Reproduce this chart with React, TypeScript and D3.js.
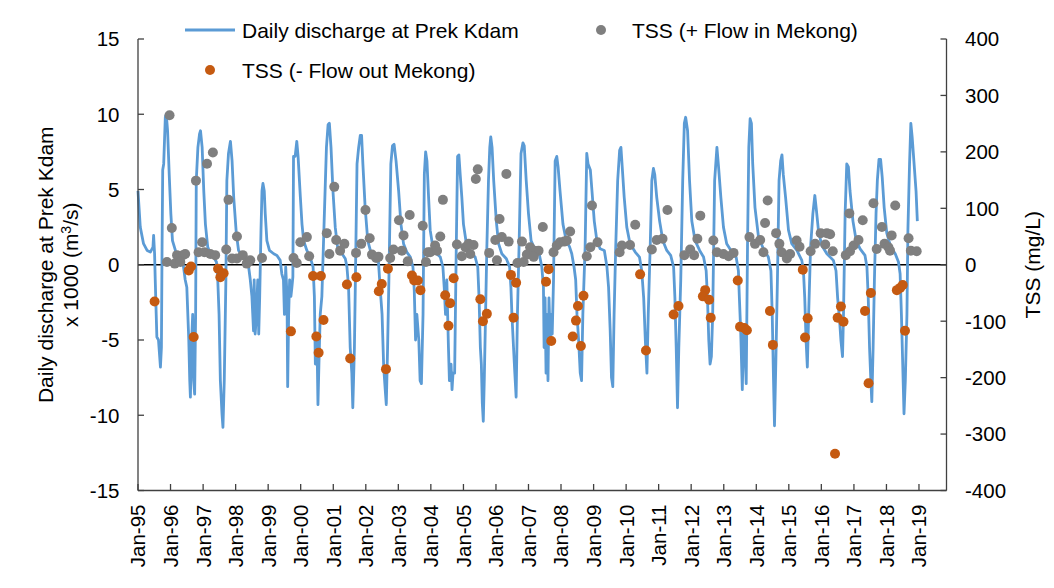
import { useEffect } from 'react';
import * as d3 from 'd3';

// daily discharge at Prek Kdam (x1000 m3/s) as [decimal year, value]
const discharge: [number, number][] = [
  [1995.0, 4.9], [1995.07, 2.5], [1995.17, 1.4], [1995.28, 0.95], [1995.38, 0.84], [1995.46, 1.17], [1995.48, 1.95],
  [1995.51, 0.73], [1995.53, -1.0], [1995.56, -3.3], [1995.58, -4.8], [1995.63, -5.0], [1995.69, -6.8], [1995.72, -5.5],
  [1995.74, 1.2], [1995.76, 6.3], [1995.79, 6.7], [1995.84, 9.8], [1995.87, 10.0], [1995.91, 8.9], [1995.96, 6.0],
  [1996.01, 3.4], [1996.06, 1.6], [1996.15, 0.95], [1996.25, 0.62], [1996.35, 0.4], [1996.4, -0.15], [1996.45, -1.0],
  [1996.5, -1.5], [1996.56, -5.0], [1996.59, -7.7], [1996.61, -8.8], [1996.64, -5.5], [1996.68, -3.3], [1996.71, -7.7],
  [1996.74, -8.6], [1996.77, -3.3], [1996.79, 5.6], [1996.84, 7.8], [1996.89, 8.7], [1996.92, 8.9], [1996.97, 7.8],
  [1997.02, 4.9], [1997.07, 2.7], [1997.14, 1.2], [1997.22, 0.73], [1997.32, 0.51], [1997.41, 0.18], [1997.45, -1.0],
  [1997.49, -3.3], [1997.53, -7.7], [1997.58, -9.9], [1997.61, -10.8], [1997.65, -7.7], [1997.7, -1.0], [1997.73, 5.6],
  [1997.78, 7.4], [1997.84, 8.2], [1997.89, 6.9], [1997.94, 4.5], [1998.02, 2.1], [1998.09, 0.95], [1998.19, 0.62],
  [1998.3, 0.4], [1998.4, -0.15], [1998.45, -1.0], [1998.5, -2.1], [1998.55, -4.4], [1998.57, -1.0], [1998.6, -4.6],
  [1998.63, -3.7], [1998.68, -1.0], [1998.71, -4.6], [1998.74, -2.1], [1998.78, 2.3], [1998.81, 4.9], [1998.84, 5.4],
  [1998.88, 4.9], [1998.91, 3.4], [1998.96, 1.6], [1999.04, 0.95], [1999.17, 0.73], [1999.27, 0.62], [1999.37, 0.29],
  [1999.42, -0.6], [1999.47, -1.0], [1999.5, -3.3], [1999.54, -0.15], [1999.58, -2.1], [1999.6, -8.1], [1999.63, -3.3],
  [1999.66, -1.0], [1999.7, -2.1], [1999.73, -1.5], [1999.76, -0.8], [1999.78, 7.2], [1999.83, 7.2], [1999.88, 8.2],
  [1999.92, 7.2], [1999.99, 4.5], [2000.04, 2.7], [2000.09, 1.6], [2000.19, 0.95], [2000.29, 0.51], [2000.38, -0.15],
  [2000.42, -2.1], [2000.45, -6.6], [2000.5, -5.0], [2000.53, -9.3], [2000.56, -6.6], [2000.6, -3.3], [2000.65, -2.1],
  [2000.72, 2.9], [2000.79, 7.8], [2000.84, 9.3], [2000.88, 9.4], [2000.93, 7.8], [2000.99, 4.9], [2001.06, 2.5],
  [2001.13, 1.2], [2001.27, 0.73], [2001.37, 0.4], [2001.42, -0.15], [2001.47, -1.5], [2001.52, -5.5], [2001.57, -7.2],
  [2001.6, -9.5], [2001.65, -5.5], [2001.68, -1.0], [2001.73, 6.7], [2001.78, 7.8], [2001.83, 8.6], [2001.87, 8.6],
  [2001.91, 6.7], [2001.98, 3.8], [2002.06, 1.6], [2002.14, 0.95], [2002.24, 0.62], [2002.39, 0.18], [2002.44, -1.5],
  [2002.5, -3.3], [2002.55, -6.8], [2002.6, -8.4], [2002.63, -9.3], [2002.67, -5.5], [2002.71, -1.0], [2002.77, 6.7],
  [2002.82, 7.9], [2002.87, 8.0], [2002.93, 6.9], [2003.01, 4.9], [2003.08, 2.7], [2003.16, 1.4], [2003.26, 0.84],
  [2003.37, 0.51], [2003.45, -0.15], [2003.49, -1.7], [2003.53, -5.0], [2003.57, -3.3], [2003.63, -5.0], [2003.67, -7.7],
  [2003.71, -7.9], [2003.76, -3.3], [2003.8, 6.0], [2003.84, 7.5], [2003.88, 6.9], [2003.93, 4.5], [2003.98, 2.3],
  [2004.06, 1.2], [2004.18, 0.73], [2004.29, 0.51], [2004.37, -0.15], [2004.41, -1.5], [2004.45, -3.3], [2004.49, -1.0],
  [2004.54, -5.5], [2004.57, -7.7], [2004.62, -6.6], [2004.65, -8.3], [2004.68, -7.2], [2004.73, -7.2], [2004.78, 1.2],
  [2004.82, 7.2], [2004.86, 7.3], [2004.9, 6.0], [2004.95, 4.5], [2005.0, 2.7], [2005.09, 1.4], [2005.21, 0.84],
  [2005.36, 0.51], [2005.44, -0.15], [2005.48, -2.2], [2005.52, -5.5], [2005.55, -6.6], [2005.58, -9.2], [2005.61, -10.4],
  [2005.64, -7.7], [2005.68, -3.3], [2005.72, 1.2], [2005.77, 5.6], [2005.81, 7.8], [2005.84, 8.5], [2005.88, 7.8],
  [2005.93, 5.6], [2006.01, 2.9], [2006.08, 1.4], [2006.18, 0.73], [2006.32, 0.4], [2006.42, -0.15], [2006.46, -1.5],
  [2006.49, -3.3], [2006.54, -5.5], [2006.58, -7.2], [2006.62, -8.8], [2006.66, -3.3], [2006.71, 1.2], [2006.77, 7.4],
  [2006.83, 8.1], [2006.87, 7.9], [2006.93, 5.6], [2007.0, 3.4], [2007.08, 1.6], [2007.21, 0.95], [2007.34, 0.62],
  [2007.41, -0.15], [2007.46, -1.5], [2007.48, -5.5], [2007.51, -2.2], [2007.54, -7.2], [2007.56, -3.3], [2007.6, -7.7],
  [2007.63, -2.2], [2007.67, -5.0], [2007.7, -3.3], [2007.73, -4.6], [2007.77, -1.0], [2007.82, 6.9], [2007.87, 7.2],
  [2007.91, 6.5], [2007.97, 4.9], [2008.06, 2.7], [2008.16, 1.6], [2008.26, 1.2], [2008.33, 0.73], [2008.4, -0.15],
  [2008.45, -1.0], [2008.49, -3.3], [2008.54, -5.0], [2008.59, -7.2], [2008.63, -7.7], [2008.67, -3.3], [2008.74, 1.2],
  [2008.79, 7.4], [2008.83, 6.7], [2008.9, 6.3], [2008.95, 4.9], [2009.02, 2.9], [2009.1, 1.6], [2009.2, 1.06],
  [2009.33, 0.95], [2009.41, -0.15], [2009.46, -1.5], [2009.51, -4.4], [2009.55, -7.5], [2009.59, -8.1], [2009.63, -3.3],
  [2009.68, 1.2], [2009.74, 5.6], [2009.8, 7.6], [2009.84, 7.8], [2009.88, 6.5], [2009.94, 4.5], [2010.02, 2.5],
  [2010.12, 1.4], [2010.28, 0.84], [2010.41, 0.51], [2010.48, -0.4], [2010.54, -2.2], [2010.59, -5.0], [2010.64, -7.2],
  [2010.68, -3.3], [2010.74, 1.2], [2010.79, 5.6], [2010.84, 6.4], [2010.88, 6.0], [2010.94, 4.5], [2011.03, 2.9],
  [2011.13, 1.6], [2011.25, 0.95], [2011.37, 0.62], [2011.46, -0.15], [2011.5, -2.2], [2011.54, -5.5], [2011.58, -9.5],
  [2011.62, -5.5], [2011.68, -1.0], [2011.74, 5.6], [2011.79, 9.4], [2011.83, 9.8], [2011.89, 8.9], [2011.95, 5.6],
  [2012.02, 2.9], [2012.12, 1.6], [2012.26, 0.95], [2012.38, 0.51], [2012.46, -0.4], [2012.5, -2.2], [2012.54, -5.0],
  [2012.58, -6.6], [2012.62, -6.1], [2012.66, -3.3], [2012.72, 5.6], [2012.79, 7.8], [2012.84, 6.5], [2012.91, 4.5],
  [2012.99, 2.5], [2013.09, 1.4], [2013.25, 0.84], [2013.38, 0.51], [2013.45, -0.4], [2013.48, -2.2], [2013.52, -4.4],
  [2013.57, -8.3], [2013.61, -4.4], [2013.65, -5.5], [2013.69, -7.9], [2013.73, 1.2], [2013.77, 7.8], [2013.81, 9.7],
  [2013.85, 9.4], [2013.89, 6.7], [2013.96, 3.8], [2014.07, 1.8], [2014.22, 1.06], [2014.37, 0.51], [2014.45, -0.4],
  [2014.49, -3.3], [2014.53, -7.7], [2014.56, -10.7], [2014.6, -6.6], [2014.65, -1.0], [2014.7, 5.6], [2014.75, 6.9],
  [2014.79, 7.3], [2014.83, 6.0], [2014.9, 4.5], [2014.99, 2.3], [2015.09, 1.4], [2015.25, 0.95], [2015.4, 0.29],
  [2015.45, -0.4], [2015.49, -2.2], [2015.53, -5.0], [2015.57, -6.8], [2015.61, -3.3], [2015.67, 1.2], [2015.74, 3.4],
  [2015.8, 4.6], [2015.85, 3.6], [2015.91, 2.3], [2016.01, 1.3], [2016.17, 0.73], [2016.37, 0.29], [2016.45, -0.4],
  [2016.5, -2.2], [2016.56, -3.7], [2016.6, -5.0], [2016.65, -6.1], [2016.68, -3.3], [2016.73, 3.4], [2016.78, 6.7],
  [2016.83, 6.5], [2016.88, 4.9], [2016.97, 2.9], [2017.07, 1.6], [2017.19, 1.06], [2017.34, 0.62], [2017.4, -0.15],
  [2017.44, -2.2], [2017.48, -5.5], [2017.52, -7.7], [2017.55, -9.1], [2017.59, -5.5], [2017.63, -1.0], [2017.68, 3.4],
  [2017.72, 5.6], [2017.77, 7.0], [2017.82, 7.0], [2017.87, 5.8], [2017.93, 3.8], [2018.01, 2.1], [2018.13, 1.2],
  [2018.27, 0.73], [2018.37, 0.18], [2018.42, -0.6], [2018.46, -3.3], [2018.5, -6.6], [2018.54, -9.9], [2018.58, -7.7],
  [2018.63, -3.3], [2018.66, 2.3], [2018.71, 6.7], [2018.75, 9.4], [2018.79, 8.5], [2018.85, 6.7], [2018.91, 4.9],
  [2018.95, 2.9],
];

// TSS samples (mg/L) taken while the flow was going into the Mekong
const tssIn: [number, number][] = [
  [1995.97, 265], [1996.04, 65], [1995.89, 5], [1996.13, 2], [1996.2, 17], [1996.28, 14], [1996.38, 17], [1996.45, 19],
  [1996.3, 5], [1996.78, 149], [1996.97, 40], [1996.86, 22], [1997.04, 22], [1997.12, 179], [1997.3, 199], [1997.22, 19],
  [1997.37, 17], [1997.78, 115], [1998.04, 50], [1997.71, 27], [1997.89, 11], [1998.04, 11], [1998.22, 17], [1998.34, 2],
  [1998.45, 8], [1998.81, 12], [1999.78, 12], [1999.88, 3], [1999.99, 40], [2000.19, 49], [2000.26, 15], [2000.8, 56],
  [2001.03, 138], [2001.09, 44], [2000.88, 19], [2001.21, 25], [2001.34, 37], [2001.7, 21], [2001.86, 37], [2001.99, 97],
  [2002.12, 47], [2002.19, 18], [2002.32, 12], [2002.39, 14], [2002.75, 12], [2002.85, 27], [2003.02, 79], [2003.16, 52],
  [2003.35, 88], [2003.11, 25], [2003.29, 6], [2003.75, 69], [2003.91, 22], [2003.85, 5], [2003.98, 22], [2004.13, 34],
  [2004.29, 50], [2004.37, 115], [2004.19, 25], [2004.8, 36], [2004.95, 15], [2005.06, 31], [2005.16, 37], [2005.31, 35],
  [2005.21, 19], [2005.38, 152], [2005.44, 169], [2005.79, 21], [2005.98, 44], [2006.11, 81], [2006.18, 49], [2006.03, 8],
  [2006.32, 161], [2006.39, 41], [2006.66, 3], [2006.8, 41], [2006.85, 5], [2006.95, 18], [2007.05, 31], [2007.18, 25],
  [2007.31, 25], [2007.44, 67], [2007.16, 14], [2007.77, 22], [2007.87, 34], [2007.97, 40], [2008.1, 41], [2008.18, 43],
  [2008.28, 59], [2008.79, 15], [2008.9, 31], [2008.95, 105], [2009.12, 40], [2009.8, 22], [2009.87, 34], [2010.12, 35],
  [2010.28, 71], [2010.79, 27], [2010.94, 44], [2011.12, 46], [2011.27, 97], [2011.79, 17], [2011.97, 27], [2012.09, 17],
  [2012.19, 46], [2012.28, 87], [2012.68, 43], [2012.79, 22], [2012.99, 19], [2013.15, 15], [2013.3, 21], [2013.79, 49],
  [2013.96, 37], [2014.12, 44], [2014.22, 22], [2014.35, 114], [2014.27, 74], [2014.61, 56], [2014.71, 37], [2014.78, 22],
  [2014.94, 11], [2015.04, 19], [2015.24, 43], [2015.33, 32], [2015.67, 24], [2015.81, 37], [2015.98, 56], [2016.17, 56],
  [2016.27, 54], [2016.12, 36], [2016.35, 24], [2016.75, 17], [2016.88, 24], [2016.99, 34], [2017.14, 44], [2016.86, 91],
  [2017.27, 79], [2017.6, 109], [2017.7, 28], [2017.86, 67], [2017.94, 37], [2018.06, 31], [2018.16, 52], [2018.27, 105],
  [2018.11, 25], [2018.68, 47], [2018.75, 25], [2018.93, 24],
];

// TSS samples (mg/L) taken while the flow was going out of the Mekong
const tssOut: [number, number][] = [
  [1995.51, -65], [1996.71, -128], [1996.56, -10], [1996.63, -3], [1997.46, -7], [1997.53, -22], [1997.63, -15],
  [1999.7, -118], [2000.38, -20], [2000.62, -20], [2000.7, -98], [2000.48, -127], [2000.55, -156], [2001.42, -35],
  [2001.71, -22], [2001.52, -166], [2002.4, -47], [2002.49, -34], [2002.68, -7], [2002.62, -185], [2003.42, -19],
  [2003.49, -28], [2003.6, -28], [2003.68, -45], [2004.7, -24], [2004.44, -54], [2004.59, -68], [2004.54, -108],
  [2005.52, -61], [2005.72, -87], [2005.6, -100], [2006.46, -18], [2006.62, -32], [2006.54, -94], [2007.62, -8],
  [2007.54, -30], [2007.7, -135], [2008.69, -55], [2008.52, -73], [2008.46, -99], [2008.36, -127], [2008.61, -144],
  [2010.43, -17], [2010.61, -152], [2011.61, -73], [2011.46, -88], [2012.43, -45], [2012.36, -56], [2012.55, -62],
  [2012.6, -94], [2013.43, -28], [2013.5, -110], [2013.63, -112], [2013.71, -116], [2014.42, -82], [2014.51, -142],
  [2015.43, -9], [2015.58, -95], [2015.5, -129], [2016.42, -335], [2016.6, -74], [2016.5, -94], [2016.68, -101],
  [2017.52, -50], [2017.34, -82], [2017.45, -210], [2018.32, -45], [2018.42, -41], [2018.5, -36], [2018.57, -117],
];

const leftTicks = [-15, -10, -5, 0, 5, 10, 15];
const rightTicks = [-400, -300, -200, -100, 0, 100, 200, 300, 400];

const W = 1054;
const H = 588;
const plot = { left: 138, right: 946.5, top: 39, bottom: 490.5 };
const FONT = "'Liberation Sans', Arial, sans-serif";
const BLUE = '#5B9BD5';
const GREY = '#7F7F7F';
const ORANGE = '#C55A11';
const AXIS = '#404040';

const toDate = (t: number) => {
  const y = Math.floor(t);
  const a = new Date(y, 0, 1).getTime();
  const b = new Date(y + 1, 0, 1).getTime();
  return new Date(a + (t - y) * (b - a));
};

export default function App() {
  useEffect(() => {
    document.body.style.margin = '0';
  }, []);

  const x = d3.scaleTime().domain([new Date(1995, 0, 1), new Date(2019, 10, 6)]).range([plot.left, plot.right]);
  const yL = d3.scaleLinear().domain([-15, 15]).range([plot.bottom, plot.top]);
  const yR = d3.scaleLinear().domain([-400, 400]).range([plot.bottom, plot.top]);
  const xTicks = d3.timeYear.range(new Date(1995, 0, 1), new Date(2019, 1, 1));
  const fmt = d3.timeFormat('%b-%y');

  const line = d3
    .line<[number, number]>()
    .x((d) => x(toDate(d[0])))
    .y((d) => yL(d[1]));

  const midY = (plot.top + plot.bottom) / 2;

  return (
    <svg width={W} height={H} style={{ display: 'block', background: '#fff' }} fontFamily={FONT}>
      {/* zero line */}
      <line x1={plot.left} x2={plot.right} y1={yL(0)} y2={yL(0)} stroke="#000" strokeWidth={1.3} />

      <path d={line(discharge) || ''} fill="none" stroke={BLUE} strokeWidth={2.8} strokeLinejoin="round" />

      {tssIn.map((d, i) => (
        <circle key={'g' + i} cx={x(toDate(d[0]))} cy={yR(d[1])} r={5} fill={GREY} />
      ))}
      {tssOut.map((d, i) => (
        <circle key={'o' + i} cx={x(toDate(d[0]))} cy={yR(d[1])} r={5} fill={ORANGE} />
      ))}

      {/* axes */}
      <line x1={plot.left} x2={plot.left} y1={plot.top} y2={plot.bottom} stroke={AXIS} strokeWidth={1.3} />
      <line x1={plot.right} x2={plot.right} y1={plot.top} y2={plot.bottom} stroke={AXIS} strokeWidth={1.3} />
      <line x1={plot.left} x2={plot.right} y1={plot.bottom} y2={plot.bottom} stroke={AXIS} strokeWidth={1.3} />

      {leftTicks.map((t) => (
        <g key={'l' + t}>
          <line x1={plot.left} x2={plot.left + 6} y1={yL(t)} y2={yL(t)} stroke={AXIS} strokeWidth={1.3} />
          <text x={119.5} y={yL(t)} dy="0.36em" textAnchor="end" fontSize={20.5} fill="#000">
            {t}
          </text>
        </g>
      ))}
      {rightTicks.map((t) => (
        <g key={'r' + t}>
          <line x1={plot.right - 6} x2={plot.right} y1={yR(t)} y2={yR(t)} stroke={AXIS} strokeWidth={1.3} />
          <text x={965} y={yR(t)} dy="0.36em" textAnchor="start" fontSize={20.5} fill="#000">
            {t}
          </text>
        </g>
      ))}
      {xTicks.map((d) => (
        <g key={'x' + d.getFullYear()}>
          <line x1={x(d)} x2={x(d)} y1={plot.bottom - 6.5} y2={plot.bottom} stroke={AXIS} strokeWidth={1.3} />
          <text
            transform={`translate(${x(d)},${plot.bottom + 14}) rotate(-90)`}
            dy="0.36em"
            textAnchor="end"
            fontSize={20.5}
            fill="#000"
          >
            {fmt(d)}
          </text>
        </g>
      ))}

      {/* axis titles */}
      <text transform={`translate(53,${midY}) rotate(-90)`} textAnchor="middle" fontSize={21} fill="#000">
        Daily discharge at Prek Kdam
      </text>
      <text transform={`translate(78,${midY}) rotate(-90)`} textAnchor="middle" fontSize={21} fill="#000">
        x 1000 (m<tspan dy="-7" fontSize={14}>3</tspan>
        <tspan dy="7">/s)</tspan>
      </text>
      <text transform={`translate(1040,${midY}) rotate(-90)`} textAnchor="middle" fontSize={21} fill="#000">
        TSS (mg/L)
      </text>

      {/* legend */}
      <line x1={185} x2={235} y1={30} y2={30} stroke={BLUE} strokeWidth={2.8} />
      <text x={242} y={30} dy="0.36em" fontSize={21} fill="#000">
        Daily discharge at Prek Kdam
      </text>
      <circle cx={601} cy={30} r={5} fill={GREY} />
      <text x={632} y={30} dy="0.36em" fontSize={21} fill="#000">
        TSS (+ Flow in Mekong)
      </text>
      <circle cx={210} cy={70} r={5} fill={ORANGE} />
      <text x={242} y={70} dy="0.36em" fontSize={21} fill="#000">
        TSS (- Flow out Mekong)
      </text>
    </svg>
  );
}
